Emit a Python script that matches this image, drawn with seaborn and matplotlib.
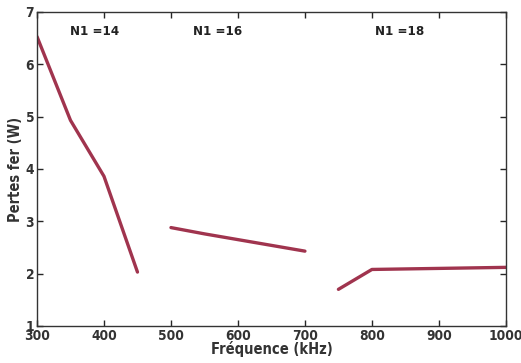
import matplotlib
matplotlib.use("Agg")
import matplotlib.pyplot as plt
import seaborn as sns
import pandas as pd

freq_14 = [300, 350, 400, 450]
loss_14 = [6.53, 4.93, 3.86, 2.03]
freq_16 = [500, 550, 600, 650, 700]
loss_16 = [2.88, 2.76, 2.65, 2.54, 2.43]
freq_18 = [750, 800, 1000]
loss_18 = [1.70, 2.08, 2.12]
labels = ["N1 =14", "N1 =16", "N1 =18"]
label_x = [386, 570, 842]
label_y = 6.62

sns.set_theme(style="ticks")
plt.rcParams['font.family'] = ['DejaVu Sans']
plt.rcParams['font.stretch'] = 'condensed'

df = pd.concat([
    pd.DataFrame({"f": freq_14, "p": loss_14, "g": labels[0]}),
    pd.DataFrame({"f": freq_16, "p": loss_16, "g": labels[1]}),
    pd.DataFrame({"f": freq_18, "p": loss_18, "g": labels[2]}),
])

fig = plt.figure(figsize=(5.21, 3.63), dpi=100)
ax = fig.add_axes([0.071, 0.102, 0.900, 0.865])
sns.lineplot(data=df, x="f", y="p", units="g", estimator=None, color="#a0344e",
             linewidth=2.4, ax=ax, sort=False)
ax.set_xlim(300, 1000)
ax.set_ylim(1, 7)
ax.set_xticks(range(300, 1001, 100))
ax.set_yticks(range(1, 8))
ax.tick_params(direction="in", top=True, right=True, length=4, width=1, labelsize=9.8, pad=2)
for lab in ax.get_xticklabels() + ax.get_yticklabels():
    lab.set_fontweight("bold")
    lab.set_fontstretch("condensed")
    lab.set_color("#333333")
for s in ax.spines.values():
    s.set_linewidth(1.0)
    s.set_color("#333333")
ax.set_xlabel("Fréquence (kHz)", fontsize=10.5, fontweight="bold", color="#333333", labelpad=-1)
ax.set_ylabel("Pertes fer (W)", fontsize=10.5, fontweight="bold", color="#333333", labelpad=2)
for t, x in zip(labels, label_x):
    ax.text(x, label_y, t, ha="center", va="center", fontsize=9.5, fontweight="bold", color="#222222")
fig.savefig("out.png", dpi=100)
